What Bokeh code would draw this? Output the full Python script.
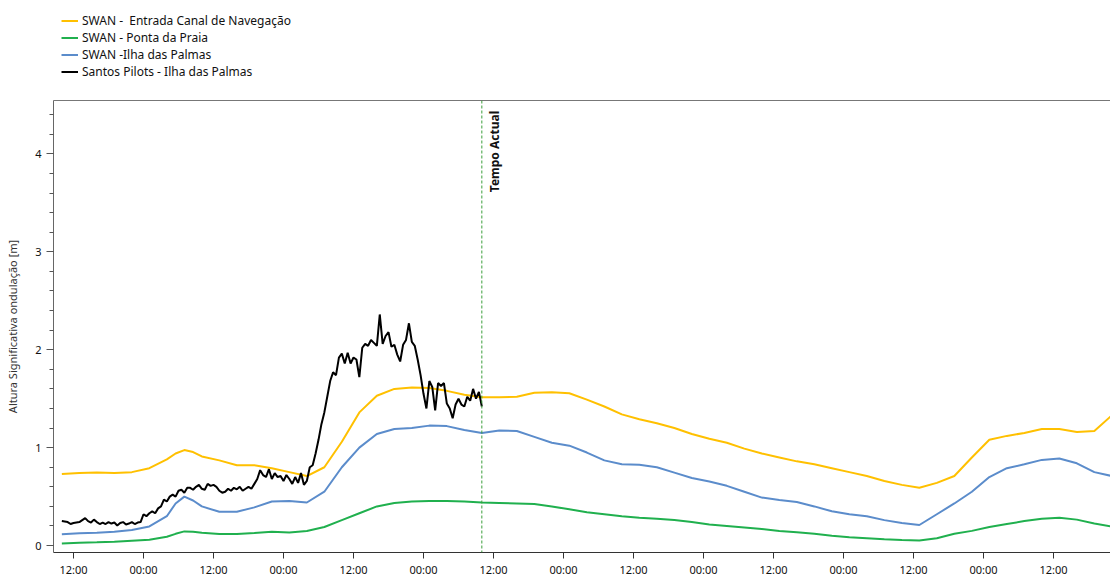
import math
from bokeh.plotting import figure
from bokeh.layouts import column
from bokeh.models import (Range1d, FixedTicker, SingleIntervalTicker, Span, Label,
                          Legend, LegendItem, LinearAxis)
from bokeh.embed import file_html
from bokeh.resources import INLINE

# ---------------- data ----------------
# hours since the first "12:00" tick; SWAN model values
swan_hours = [-2, 1, 4, 7, 10, 13, 16, 17.5, 19, 20.5, 22, 25, 28, 31, 34, 37, 40, 43, 46, 49, 52, 55,
              58, 61, 64, 67, 70, 73, 76, 79, 82, 85, 88, 91, 94, 97, 100, 103, 106, 109, 112, 115,
              118, 121, 124, 127, 130, 133, 136, 139, 142, 145, 148, 151, 154, 157, 160, 163, 166, 169, 172, 175,
              178]

swan_entrada = [0.73, 0.74, 0.745, 0.74, 0.75, 0.79, 0.88, 0.94, 0.975, 0.955, 0.91, 0.87, 0.82, 0.82, 0.79, 0.75, 0.71,
                0.80, 1.06, 1.36, 1.53, 1.60, 1.615, 1.61, 1.58, 1.54, 1.515, 1.515, 1.52, 1.56, 1.566, 1.555,
                1.49, 1.42, 1.34, 1.29, 1.25, 1.20, 1.14, 1.09, 1.05, 0.99, 0.94, 0.90, 0.86, 0.83, 0.79,
                0.75, 0.71, 0.66, 0.62, 0.59, 0.64, 0.71, 0.90, 1.08, 1.12, 1.15, 1.19, 1.19, 1.16, 1.17,
                1.33]

swan_ponta = [0.022, 0.028, 0.033, 0.04, 0.05, 0.06, 0.09, 0.12, 0.145, 0.14, 0.13, 0.118, 0.118, 0.128, 0.14, 0.133, 0.148,
              0.19, 0.26, 0.33, 0.40, 0.435, 0.45, 0.455, 0.455, 0.45, 0.44, 0.435, 0.43, 0.425, 0.40, 0.37,
              0.34, 0.32, 0.30, 0.285, 0.275, 0.26, 0.24, 0.215, 0.20, 0.185, 0.17, 0.15, 0.135, 0.12, 0.10,
              0.085, 0.075, 0.065, 0.058, 0.052, 0.075, 0.12, 0.15, 0.19, 0.22, 0.25, 0.275, 0.285, 0.265, 0.225,
              0.195]

swan_ilha = [0.115, 0.125, 0.13, 0.14, 0.16, 0.195, 0.30, 0.43, 0.50, 0.46, 0.40, 0.345, 0.345, 0.39, 0.45, 0.455, 0.44,
             0.55, 0.80, 1.00, 1.14, 1.19, 1.20, 1.225, 1.22, 1.18, 1.15, 1.175, 1.17, 1.11, 1.05, 1.02,
             0.95, 0.87, 0.83, 0.825, 0.80, 0.745, 0.69, 0.655, 0.61, 0.55, 0.49, 0.465, 0.445, 0.40, 0.35,
             0.32, 0.30, 0.26, 0.23, 0.21, 0.32, 0.43, 0.55, 0.70, 0.79, 0.83, 0.875, 0.89, 0.84, 0.75,
             0.71]

# Santos Pilots measurements, every 30 min starting at hour -2
pilots_start_hour = -2.0
pilots_step_hours = 0.5
pilots_values = [0.25, 0.245, 0.24, 0.22, 0.23, 0.235, 0.24, 0.26, 0.28, 0.25, 0.235, 0.265, 0.24, 0.22,
                 0.235, 0.22, 0.24, 0.225, 0.235, 0.205, 0.23, 0.24, 0.215, 0.225, 0.24, 0.22, 0.235, 0.24,
                 0.32, 0.30, 0.33, 0.35, 0.33, 0.38, 0.40, 0.47, 0.45, 0.50, 0.52, 0.50,
                 0.56, 0.57, 0.54, 0.59, 0.59, 0.57, 0.60, 0.62, 0.58, 0.57,
                 0.63, 0.61, 0.62, 0.60, 0.56, 0.54, 0.55, 0.58, 0.56, 0.59, 0.575, 0.60, 0.56,
                 0.58, 0.60, 0.58, 0.63, 0.68, 0.77, 0.72, 0.70, 0.78, 0.68,
                 0.74, 0.70, 0.71, 0.66, 0.72, 0.68, 0.63, 0.70, 0.64, 0.74, 0.62, 0.66, 0.80,
                 0.82, 0.94, 1.08, 1.24, 1.36, 1.52, 1.68,
                 1.77, 1.74, 1.92, 1.96, 1.86, 1.97, 1.86, 1.92,
                 1.90, 1.72, 2.02, 2.06, 2.04, 2.10, 2.07, 2.04,
                 2.36, 2.06, 2.14, 2.18, 2.03, 2.05, 1.95, 1.88, 2.05, 2.10,
                 2.27, 2.08, 2.04, 1.90, 1.74, 1.55, 1.40, 1.68, 1.62, 1.38, 1.66,
                 1.63, 1.66, 1.45, 1.40, 1.30, 1.44, 1.50, 1.44, 1.42, 1.52, 1.48, 1.60,
                 1.50, 1.57, 1.42]
pilots_hours = [pilots_start_hour + i * pilots_step_hours for i in range(len(pilots_values))]

now_hour = 70
x_tick_hours = [0, 12, 24, 36, 48, 60, 72, 84, 96, 108, 120, 132, 144, 156, 168]
x_tick_labels = ["12:00", "00:00", "12:00", "00:00", "12:00", "00:00", "12:00", "00:00",
                 "12:00", "00:00", "12:00", "00:00", "12:00", "00:00", "12:00"]

series_names = ["SWAN -  Entrada Canal de Navegação", "SWAN - Ponta da Praia",
                "SWAN -Ilha das Palmas", "Santos Pilots - Ilha das Palmas"]
y_label = "Altura Significativa ondulação [m]"
now_label = "Tempo Actual"

# ---------------- styles ----------------
FONT = "Noto Sans"
c_yellow = "#FFC000"
c_green = "#20B04E"
c_blue = "#5B8CCB"
c_black = "#000000"

LEGEND_H = 92


def draw_series(fig):
    return [fig.line(swan_hours, swan_entrada, line_color=c_yellow, line_width=2),
            fig.line(swan_hours, swan_ponta, line_color=c_green, line_width=2),
            fig.line(swan_hours, swan_ilha, line_color=c_blue, line_width=2),
            fig.line(pilots_hours, pilots_values, line_color=c_black, line_width=2)]


# ---------------- main chart ----------------
p = figure(width=1110, height=579 - LEGEND_H, output_backend="svg", toolbar_location=None,
           x_range=Range1d(-3.43, 177.77), y_range=Range1d(-0.0707, 4.545),
           min_border_left=53, min_border_right=0, min_border_top=8, min_border_bottom=22)
p.outline_line_color = None
p.xgrid.visible = False
p.ygrid.visible = False
p.background_fill_color = "white"

draw_series(p)

# current-time marker
p.add_layout(Span(location=now_hour, dimension="height", line_color="#3A9D3A",
                  line_dash="3 2", line_width=1))
p.add_layout(Label(x=now_hour, y=4.44, text=now_label, angle=math.pi / 2,
                   text_align="right", text_baseline="top", x_offset=4,
                   text_font=FONT, text_font_size="12px", text_font_style="bold",
                   text_color="#111111"))

# axes
xa = p.xaxis[0]
xa.ticker = FixedTicker(ticks=x_tick_hours)
xa.major_label_overrides = {h: lab for h, lab in zip(x_tick_hours, x_tick_labels)}
xa.axis_line_color = "#333333"
xa.major_tick_line_color = "#333333"
xa.major_tick_out = 6
xa.major_tick_in = 0
xa.minor_tick_line_color = None
xa.major_label_standoff = 3
xa.major_label_text_font = FONT
xa.major_label_text_font_size = "11px"
xa.major_label_text_color = "#111111"

ya = p.yaxis[0]
ya.ticker = SingleIntervalTicker(interval=1, num_minor_ticks=5)
ya.axis_line_color = "#666666"
ya.major_tick_line_color = "#555555"
ya.minor_tick_line_color = "#555555"
ya.major_tick_out = 7
ya.major_tick_in = 0
ya.minor_tick_out = 4
ya.minor_tick_in = 0
ya.major_label_standoff = 5
ya.major_label_text_font = FONT
ya.major_label_text_font_size = "11px"
ya.major_label_text_color = "#111111"
ya.axis_label = y_label
ya.axis_label_text_font = FONT
ya.axis_label_text_font_size = "11px"
ya.axis_label_text_font_style = "normal"
ya.axis_label_text_color = "#333333"
ya.axis_label_standoff = 12

top_axis = LinearAxis(ticker=FixedTicker(ticks=[]), axis_line_color="#777777",
                      major_tick_line_color=None, minor_tick_line_color=None,
                      major_label_text_font_size="0px")
p.add_layout(top_axis, "above")

# ---------------- legend strip above the chart ----------------
# same series drawn again, but with a y range that keeps them out of view;
# only the legend of this strip is visible
lf = figure(width=1110, height=LEGEND_H, output_backend="svg", toolbar_location=None,
            x_range=Range1d(-3.43, 177.77), y_range=Range1d(100, 101), min_border=0)
lf.axis.visible = False
lf.grid.visible = False
lf.outline_line_color = None
legend_renderers = draw_series(lf)
legend = Legend(items=[LegendItem(label=n, renderers=[r]) for n, r in zip(series_names, legend_renderers)],
                location=(8, 12), orientation="vertical", padding=0, margin=0, spacing=0,
                border_line_color=None, background_fill_alpha=0,
                label_text_font=FONT, label_text_font_size="12px", label_text_color="#111111",
                glyph_width=17, glyph_height=17, label_height=17, label_standoff=4)
lf.add_layout(legend, "center")

layout = column(lf, p, spacing=0)
open("out.html", "w").write(file_html(layout, INLINE))
